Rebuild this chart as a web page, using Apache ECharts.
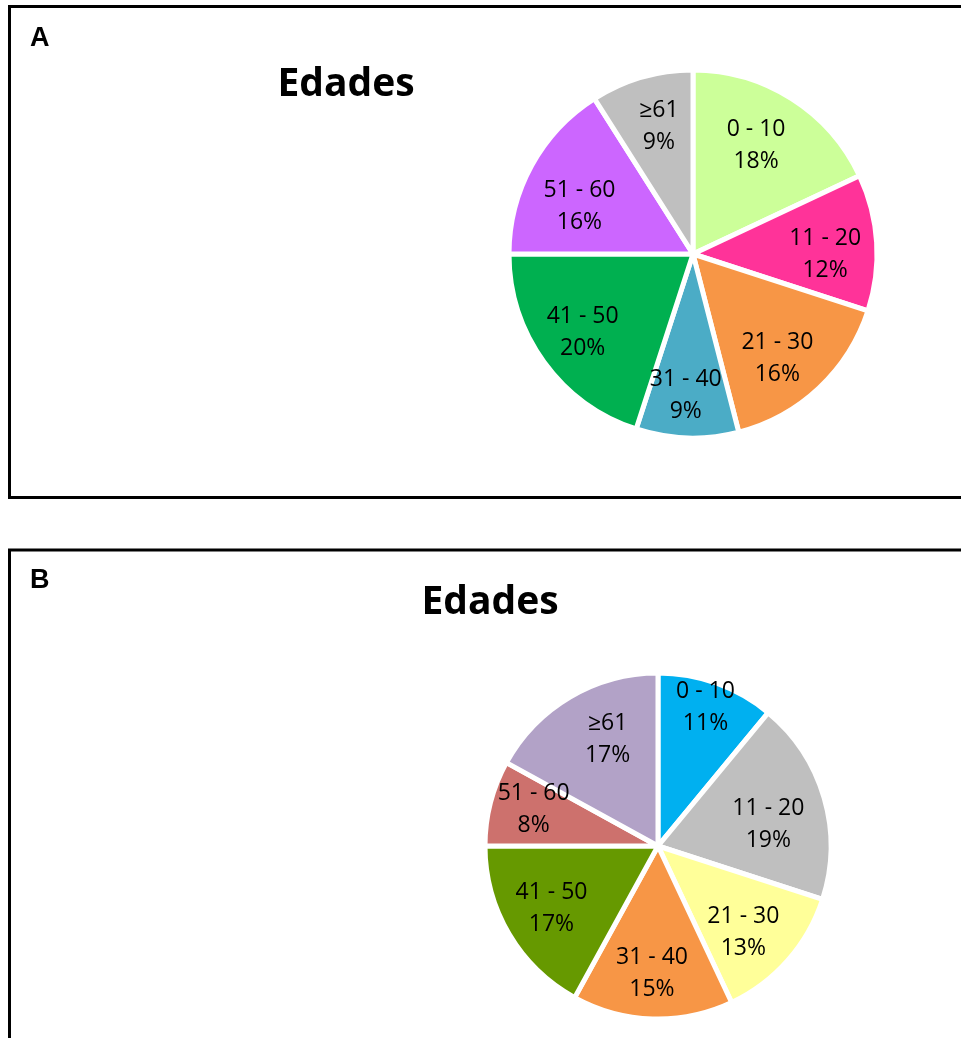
<!DOCTYPE html>
<html>
<head>
<meta charset="utf-8">
<script src="https://cdn.jsdelivr.net/npm/echarts@6/dist/echarts.min.js"></script>
<style>
html,body{margin:0;padding:0;background:#fff;}
#chart{width:961px;height:1038px;}
</style>
</head>
<body>
<div id="chart"></div>
<script>
var categories = ['0 - 10', '11 - 20', '21 - 30', '31 - 40', '41 - 50', '51 - 60', '\u226561'];
var valuesA = [18, 12, 16, 9, 20, 16, 9];
var valuesB = [11, 19, 13, 15, 17, 8, 17];
var colorsA = ['#CCFF99', '#FF3399', '#F79646', '#4BACC6', '#00B050', '#CC66FF', '#BFBFBF'];
var colorsB = ['#00B0F0', '#BFBFBF', '#FFFF99', '#F79646', '#669900', '#CD716D', '#B2A2C7'];
var titleText = 'Edades';
var panelLetters = ['A', 'B'];

// ---- layout / style (not data) ----
// label nudges, mimicking the spreadsheet's hand-placed labels
var nudgeA = [[-10, 7], [-4, 9], [-9, 5], [-3, 5], [0, -2], [6, 18], [4, 3]];
var nudgeB = [[4, -18], [-13, 14], [-11, 2], [-2, -1], [4, -3], [0, -5], [15, 4]];

function mkData(vals, cols) {
  return categories.map(function (c, i) {
    return { name: c, value: vals[i], itemStyle: { color: cols[i] } };
  });
}
function mkLabelData(vals) {
  return categories.map(function (c, i) {
    return { name: c, value: vals[i] };
  });
}

var labelFont = { fontFamily: 'Open Sans', fontSize: 23, lineHeight: 32, color: '#000' };

function pieSeries(center, r, vals, cols) {
  return {
    type: 'pie', center: center, radius: [0, r], startAngle: 90, clockwise: true,
    silent: true, animation: false,
    itemStyle: { borderColor: '#fff', borderWidth: 5 },
    label: { show: false }, labelLine: { show: false },
    data: mkData(vals, cols)
  };
}
function labelSeries(center, r, vals, nudge) {
  return {
    type: 'pie', center: center, radius: [r * 0.45, r], startAngle: 90, clockwise: true,
    silent: true, animation: false,
    itemStyle: { color: 'rgba(0,0,0,0)', borderWidth: 0 },
    label: Object.assign({ show: true, position: 'inside', formatter: '{b}\n{c}%' }, labelFont),
    labelLine: { show: false },
    labelLayout: function (p) {
      var n = nudge[p.dataIndex];
      return { dx: n[0], dy: n[1] };
    },
    data: mkLabelData(vals)
  };
}

var chart = echarts.init(document.getElementById('chart'), null, { renderer: 'canvas' });
var rA = 184, rB = 173;
var cA = [693, 254], cB = [658, 846];
var series = [
  pieSeries(cA, rA, valuesA, colorsA),
  labelSeries(cA, rA, valuesA, nudgeA),
  pieSeries(cB, rB, valuesB, colorsB),
  labelSeries(cB, rB, valuesB, nudgeB)
];

var titleStyle = { fontFamily: 'Open Sans', fontWeight: 'bold', fontSize: 39, color: '#000' };
var letterStyle = { fontFamily: 'Liberation Sans', fontWeight: 'bold', fontSize: 27, color: '#000' };

chart.setOption({
  animation: false,
  backgroundColor: '#fff',
  title: [
    { text: titleText, left: 341, top: 60, textAlign: 'center', textStyle: titleStyle },
    { text: titleText, left: 485, top: 578, textAlign: 'center', textStyle: titleStyle },
    { text: panelLetters[0], left: 25, top: 20, textStyle: letterStyle },
    { text: panelLetters[1], left: 25, top: 562, textStyle: letterStyle }
  ],
  graphic: [
    { type: 'rect', silent: true, shape: { x: 9.5, y: 6.5, width: 1000, height: 491 },
      style: { fill: 'none', stroke: '#000', lineWidth: 3 } },
    { type: 'rect', silent: true, shape: { x: 9.5, y: 550, width: 1000, height: 600 },
      style: { fill: 'none', stroke: '#000', lineWidth: 3 } }
  ],
  series: series
});
</script>
</body>
</html>
